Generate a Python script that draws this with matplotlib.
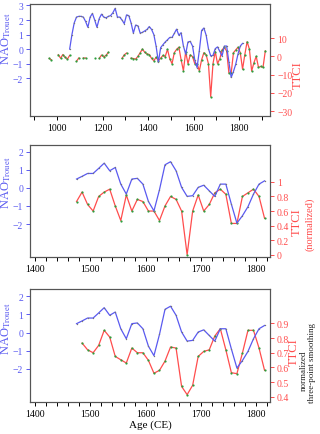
## NAO (Trouet) vs TTCI, three stacked panels
import numpy as np
import matplotlib
matplotlib.use('Agg')
import matplotlib.pyplot as plt
from matplotlib.ticker import MultipleLocator

plt.rcParams['font.family'] = ['Liberation Serif', 'DejaVu Serif']
plt.rcParams['mathtext.fontset'] = 'stix'

blueC = '#5a5af0'
redC = '#ff4d4d'
greenC = '#2e9e3e'

## NAO reconstruction, 10-yr steps
nao_early_years = np.arange(1055, 1466, 10)
nao_early = [0.0, 1.0, 1.8, 2.2, 2.25, 2.25, 2.2, 1.9, 1.5, 2.2,
             2.45, 2.0, 1.5, 2.1, 2.4, 2.2, 2.15, 2.25, 2.3, 2.5,
             2.8, 2.2, 2.2, 2.0, 1.75, 2.35, 2.3, 1.8, 1.1, 1.65,
             1.6, 1.1, 1.15, 1.25, 1.35, 1.55, 1.35, 1.0, 0.2, -0.9,
             0.1, 0.3]
nao_years = np.arange(1475, 1816, 10)
nao = [0.49, 0.64, 0.80, 0.80, 1.08, 1.37, 0.95, 1.13, 0.21, -0.34,
       0.49, 0.53, 0.21, -0.75, -1.27, -0.1, 1.28, 1.45, 0.95, 0.03,
       -0.47, -0.43, 0.03, 0.15, -0.16, -0.47, 0.21, 0.21, -0.9, -1.95,
       -1.54, -1.04, -0.34, 0.21, 0.39]

## TTCI raw (gaps = nan)
nan = np.nan
ttci_years = np.arange(965, 1916, 10)
ttci = [-1.1, -2.0, nan, nan, 0.9, -1.0, 1.0, -0.5, -1.5, 0.5,
        nan, nan, -2.7, -0.9, nan, -0.9, -0.9, nan, nan, nan,
        -1.0, nan, -1.1, 0.7, -0.2, 0.5, 2.2, nan, nan, nan,
        nan, nan, -1.1, 0.8, 1.8, nan, -1.0, -1.2, -1.5, 0.0,
        2.0, 4.0, 2.2, 1.3, 1.0, -1.1, -2.4, -0.5, -2.4, -1.0,
        0.5,
        -0.1, 3.8, -1.3, -4.0, 2.0, 3.8, 5.0, -1.9, -7.9, 2.6,
        -4.0, 0.8, -0.1, -4.0, -4.0, -7.9, -1.9, 2.0, 0.8, -4.0,
        -22.0, -4.0, 2.6, -4.0, -1.3, 3.5, 5.0, 2.9, -9.1, -9.1,
        2.0, 3.5, 5.0, 2.0, -7.0,
        1.0, 8.0, 4.0, -8.0, -3.5, 0.0, -6.0, -5.5, -6.0, 3.0]

## TTCI normalized
ttci_norm = [0.73, 0.86, 0.69, 0.60, 0.80, 0.86, 0.90, 0.67, 0.47, 0.82,
             0.60, 0.76, 0.73, 0.60, 0.60, 0.47, 0.67, 0.80, 0.76, 0.60,
             0.0, 0.60, 0.82, 0.60, 0.69, 0.85, 0.90, 0.83, 0.43, 0.43,
             0.80, 0.85, 0.90, 0.80, 0.50]

## TTCI normalized, three-point smoothing
smooth_years = np.arange(1485, 1816, 10)
ttci_smooth = [0.766, 0.72, 0.70, 0.75, 0.853, 0.807, 0.675, 0.652, 0.63, 0.732,
               0.70, 0.70, 0.648, 0.56, 0.58, 0.643, 0.739, 0.732, 0.47, 0.414,
               0.478, 0.675, 0.709, 0.72, 0.814, 0.864, 0.72, 0.564, 0.557, 0.698,
               0.853, 0.853, 0.732, 0.58]

fig = plt.figure(figsize=(3.2, 4.35), dpi=100)

naoLabel = r'NAO$_{\mathrm{Trouet}}$'


def style_axes(ax, ax2):
    for s in ax.spines.values():
        s.set_color('#555555')
        s.set_linewidth(0.8)
    for s in ax2.spines.values():
        s.set_color('#555555')
        s.set_linewidth(0.8)
    ax.tick_params(axis='x', direction='out', length=3, width=0.7, labelsize=7, pad=2)
    ax.tick_params(axis='x', which='minor', direction='out', length=3, width=0.7)
    ax.tick_params(axis='y', direction='out', length=3, width=0.7, labelsize=7,
                   colors=blueC, pad=2)
    ax2.tick_params(axis='y', direction='out', length=3, width=0.7, labelsize=7,
                    colors=redC, pad=2)
    ax.yaxis.set_ticks_position('left')
    ax.xaxis.set_ticks_position('bottom')


## Panel 1
ax1 = fig.add_axes([0.094, 0.731, 0.75, 0.2575])
ax1b = ax1.twinx()
ax1.plot(np.concatenate([nao_early_years, nao_years]), nao_early + nao,
         '-', color=blueC, linewidth=0.9, marker='o', markersize=1.0,
         markerfacecolor='#777777', markeredgecolor='none', zorder=3)
ax1b.plot(ttci_years, ttci, '-', color=redC, linewidth=0.9, marker='o',
          markersize=1.6, markerfacecolor=greenC, markeredgecolor='none')
ax1.set_xlim(881, 1936)
ax1.set_ylim(-4.6, 3.1)
ax1b.set_ylim(-32.6, 28.6)
ax1.set_xticks([1000, 1200, 1400, 1600, 1800])
ax1.xaxis.set_minor_locator(MultipleLocator(100))
ax1.set_yticks([-2, -1, 0, 1, 2, 3])
ax1b.set_yticks([-30, -20, -10, 0, 10])
style_axes(ax1, ax1b)
ax1.set_zorder(ax1b.get_zorder() + 1)
ax1.patch.set_visible(False)
ax1.text(-0.098, 0.70, naoLabel, transform=ax1.transAxes, rotation=90,
         ha='center', va='center', color=blueC, fontsize=9)
ax1.text(1.115, 0.375, 'TTCI', transform=ax1.transAxes, rotation=90,
         ha='center', va='center', color=redC, fontsize=9)

## Panel 2
ax2 = fig.add_axes([0.094, 0.407, 0.75, 0.258])
ax2b = ax2.twinx()
ax2.plot(nao_years, nao, '-', color=blueC, linewidth=0.9, marker='o',
         markersize=1.0, markerfacecolor='#777777', markeredgecolor='none', zorder=3)
ax2b.plot(nao_years, ttci_norm, '-', color=redC, linewidth=0.9, marker='o',
          markersize=1.6, markerfacecolor=greenC, markeredgecolor='none')
ax2.set_xlim(1391, 1825)
ax2.set_ylim(-3.82, 2.39)
ax2b.set_ylim(-0.03, 1.51)
ax2.set_xticks([1400, 1500, 1600, 1700, 1800])
ax2.xaxis.set_minor_locator(MultipleLocator(20))
ax2.set_yticks([-2, -1, 0, 1, 2])
ax2b.set_yticks([0, 0.2, 0.4, 0.6, 0.8, 1])
ax2b.set_yticklabels(['0', '0.2', '0.4', '0.6', '0.8', '1'])
style_axes(ax2, ax2b)
ax2.set_zorder(ax2b.get_zorder() + 1)
ax2.patch.set_visible(False)
ax2.text(-0.098, 0.67, naoLabel, transform=ax2.transAxes, rotation=90,
         ha='center', va='center', color=blueC, fontsize=9)
ax2.text(1.11, 0.32, 'TTCI', transform=ax2.transAxes, rotation=90,
         ha='center', va='center', color=redC, fontsize=9)
ax2.text(1.165, 0.30, '(normalized)', transform=ax2.transAxes, rotation=90,
         ha='center', va='center', color=redC, fontsize=7.5)

## Panel 3
ax3 = fig.add_axes([0.094, 0.0736, 0.75, 0.2594])
ax3b = ax3.twinx()
ax3.plot(nao_years, nao, '-', color=blueC, linewidth=0.9, marker='o',
         markersize=1.0, markerfacecolor='#777777', markeredgecolor='none', zorder=3)
ax3b.plot(smooth_years, ttci_smooth, '-', color=redC, linewidth=0.9, marker='o',
          markersize=1.6, markerfacecolor=greenC, markeredgecolor='none')
ax3.set_xlim(1391, 1825)
ax3.set_ylim(-3.82, 2.39)
ax3b.set_ylim(0.364, 1.134)
ax3.set_xticks([1400, 1500, 1600, 1700, 1800])
ax3.xaxis.set_minor_locator(MultipleLocator(20))
ax3.set_yticks([-2, -1, 0, 1, 2])
ax3b.set_yticks([0.4, 0.5, 0.6, 0.7, 0.8, 0.9])
style_axes(ax3, ax3b)
ax3.set_zorder(ax3b.get_zorder() + 1)
ax3.patch.set_visible(False)
ax3.text(-0.098, 0.66, naoLabel, transform=ax3.transAxes, rotation=90,
         ha='center', va='center', color=blueC, fontsize=9)
ax3.text(1.10, 0.45, 'TTCI', transform=ax3.transAxes, rotation=90,
         ha='center', va='center', color=redC, fontsize=9)
ax3.text(1.14, 0.286, 'normalized', transform=ax3.transAxes, rotation=90,
         ha='center', va='center', color='#222222', fontsize=6.5)
ax3.text(1.175, 0.35, 'three-point smoothing', transform=ax3.transAxes, rotation=90,
         ha='center', va='center', color='#222222', fontsize=6.5)
ax3.set_xlabel('Age (CE)', fontsize=8, labelpad=1)

fig.savefig('out.png', dpi=100)
